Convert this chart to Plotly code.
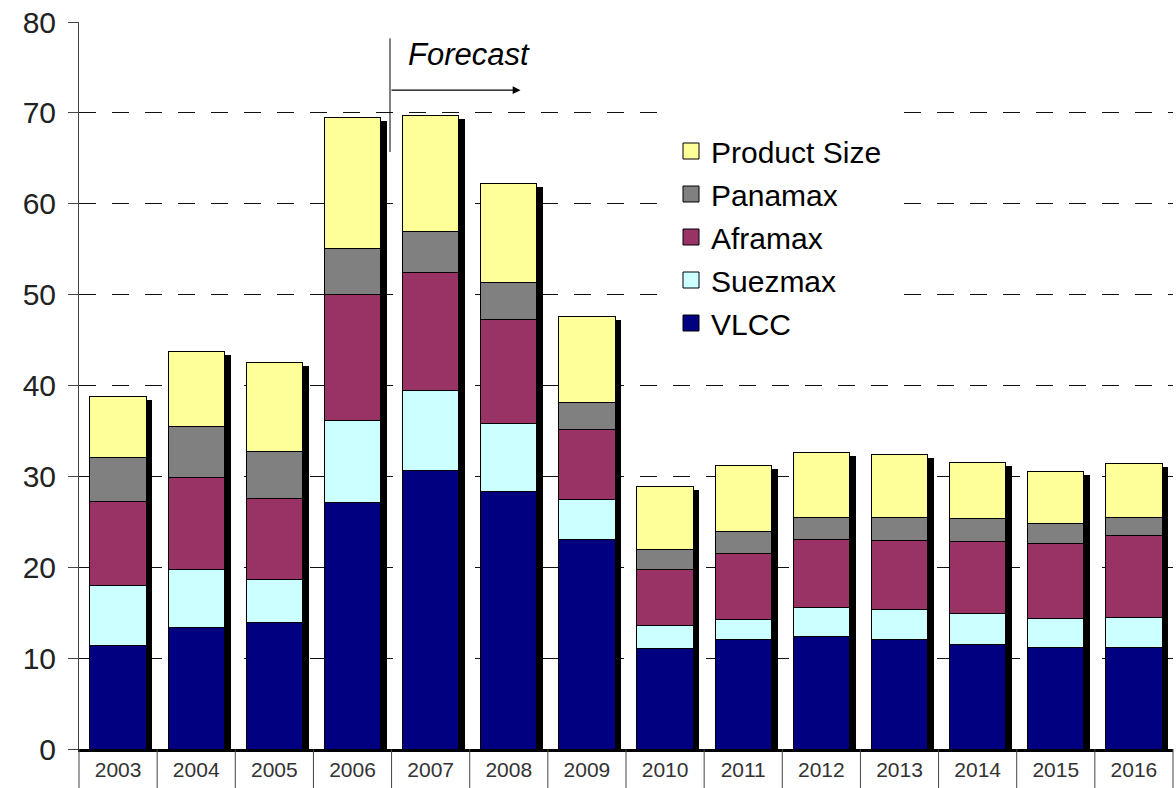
import numpy as np
import plotly.graph_objects as go

years = ["2003", "2004", "2005", "2006", "2007", "2008", "2009",
         "2010", "2011", "2012", "2013", "2014", "2015", "2016"]
vlcc = [11.4, 13.4, 13.9, 27.1, 30.6, 28.3, 23.0, 11.1, 12.1, 12.4, 12.1, 11.5, 11.2, 11.2]
suezmax = [6.6, 6.4, 4.8, 9.0, 8.8, 7.5, 4.5, 2.5, 2.2, 3.2, 3.3, 3.4, 3.2, 3.3]
aframax = [9.2, 10.1, 8.9, 13.9, 13.0, 11.5, 7.7, 6.1, 7.2, 7.4, 7.5, 7.9, 8.2, 9.0]
panamax = [4.9, 5.6, 5.1, 5.1, 4.6, 4.0, 2.9, 2.2, 2.4, 2.5, 2.6, 2.6, 2.2, 2.0]
product = [6.7, 8.2, 9.8, 14.4, 12.7, 10.9, 9.5, 7.0, 7.3, 7.1, 6.9, 6.1, 5.7, 5.9]
y_ticks = [0, 10, 20, 30, 40, 50, 60, 70, 80]

series = [
    ("VLCC", vlcc, "#000080"),
    ("Suezmax", suezmax, "#CCFFFF"),
    ("Aframax", aframax, "#993366"),
    ("Panamax", panamax, "#808080"),
    ("Product Size", product, "#FFFF99"),
]

FONT = "Arial, Liberation Sans, sans-serif"
BAR_W = 0.72
SHADOW_DX = 0.08
SHADOW_DY = 0.35

totals = np.sum([vlcc, suezmax, aframax, panamax, product], axis=0)

fig = go.Figure()

# drop shadows (base x axis, drawn beneath)
fig.add_trace(go.Bar(
    x=years, y=totals - SHADOW_DY, xaxis="x", yaxis="y",
    width=BAR_W, offset=-BAR_W / 2 + SHADOW_DX,
    marker=dict(color="black", line=dict(width=0)),
    showlegend=False, hoverinfo="skip",
))

# stacked bars on overlaying axis
for name, vals, col in series:
    fig.add_trace(go.Bar(
        x=years, y=vals, name=name, xaxis="x2", yaxis="y",
        width=BAR_W, offset=-BAR_W / 2,
        marker=dict(color=col, line=dict(color="black", width=1)),
        showlegend=False,
    ))

# legend proxies (larger square swatches)
for i, (name, vals, col) in enumerate(reversed(series)):
    fig.add_trace(go.Scatter(
        x=[None], y=[None], mode="markers", name=name,
        legendgroup=name, legendrank=i,
        marker=dict(symbol="square", size=16, color=col,
                    line=dict(color="black", width=1)),
    ))

n = len(years)
shapes = []
# table-like separators below the x axis
for i in range(n + 1):
    shapes.append(dict(type="line", xref="paper", yref="paper",
                       x0=i / n, x1=i / n, y0=0, y1=-39 / 727,
                       line=dict(color="#444", width=1)))
# forecast divider
shapes.append(dict(type="line", xref="x", yref="y", x0=3.48, x1=3.48,
                   y0=65.7, y1=78.2, line=dict(color="black", width=1)))

fig.update_layout(
    width=1176, height=788,
    margin=dict(l=79, r=3, t=22, b=39),
    paper_bgcolor="white", plot_bgcolor="white",
    barmode="stack",
    font=dict(family=FONT, color="#222"),
    xaxis=dict(type="category", categoryorder="array", categoryarray=years,
               range=[-0.5, n - 0.5], showgrid=False, zeroline=False,
               showline=True, linecolor="black", linewidth=3,
               ticks="", tickfont=dict(size=21, color="#333"),
               ticklabelstandoff=0),
    xaxis2=dict(type="category", categoryorder="array", categoryarray=years,
                range=[-0.5, n - 0.5], overlaying="x", visible=False),
    yaxis=dict(range=[0, 80], tickvals=y_ticks, showgrid=True,
               gridcolor="#111", gridwidth=1, griddash="17px,16px",
               zeroline=False, showline=True, linecolor="#444", linewidth=1,
               ticks="outside", ticklen=10, tickcolor="#444",
               tickfont=dict(size=30, color="#222"), ticklabelstandoff=6),
    legend=dict(x=(671 - 14 - 79) / 1094, y=1 - (125 - 14 - 22) / 727,
                xanchor="left", yanchor="top",
                bgcolor="white", bordercolor="white", borderwidth=14,
                tracegroupgap=1,
                font=dict(size=30, color="black", family=FONT)),
    shapes=shapes,
    annotations=[
        dict(x=5.15, y=72.5, ax=3.48, ay=72.5, xref="x", yref="y",
             axref="x", ayref="y", text="", showarrow=True,
             arrowhead=2, arrowsize=1.3, arrowwidth=1.2, arrowcolor="black"),
        dict(x=3.68, y=76.4, xref="x", yref="y", text="<i>Forecast</i>",
             showarrow=False, xanchor="left", yanchor="middle",
             font=dict(size=31, color="black", family=FONT)),
    ],
)

fig.write_html("out.html")
